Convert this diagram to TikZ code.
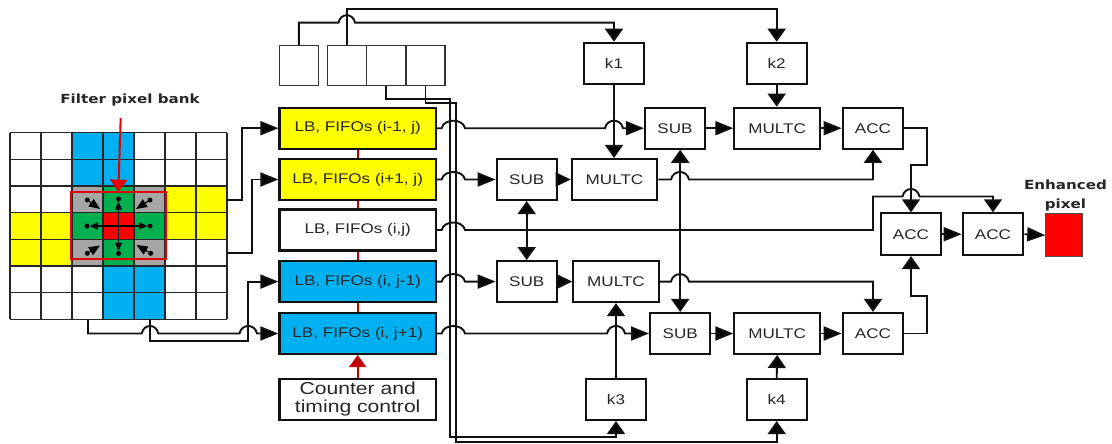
\documentclass[tikz,border=0pt]{standalone}
\usepackage{fontspec}
\setmainfont{Liberation Sans}
\newfontfamily\widefont[FakeStretch=1.22]{Liberation Sans}
\newfontfamily\labfont[FakeStretch=1.2]{DejaVu Sans}
\usetikzlibrary{arrows.meta,calc}
\definecolor{cyanb}{HTML}{00B0F0}
\definecolor{yel}{HTML}{FFFF00}
\definecolor{grn}{HTML}{00B050}
\definecolor{gry}{HTML}{A6A6A6}
\definecolor{dred}{HTML}{C00000}
\definecolor{lin}{HTML}{111111}
\tikzset{
  box/.style={draw=lin,line width=2.1pt,fill=white,inner sep=0pt,align=center,font=\widefont\fontsize{14}{16}\selectfont,text=black!85},
  topbox/.style={draw=black!80,line width=1.2pt,fill=white,inner sep=0pt,minimum width=39pt,minimum height=40pt},
  lbbox/.style={box,minimum width=156.5pt,minimum height=41pt},
  conn/.style={draw=lin,line width=1.9pt},
  ah/.style={conn,-{Triangle[length=18pt,width=14pt,fill=black]}},
  ahs/.style={conn,-{Triangle[length=15pt,width=14pt,fill=black]}},
  av/.style={conn,-{Triangle[length=13pt,width=18pt,fill=black]}},
  avb/.style={conn,{Triangle[length=13pt,width=18pt,fill=black]}-{Triangle[length=13pt,width=18pt,fill=black]}},
  hop/.style={to path={.. controls +(2,-10) and +(-2,-10) .. (\tikztotarget)}},
  dotn/.style={circle,fill=black,inner sep=0pt,minimum size=5pt},
  ia/.style={draw=black,line width=1.2pt,-{Triangle[length=8pt,width=7pt,fill=black]}},
  ic/.style={draw=black,line width=1.2pt,-{Triangle[length=11pt,width=9pt,fill=black]}},
  tinyd/.style={circle,fill=black,inner sep=0pt,minimum size=1pt},
  redl/.style={draw=dred,line width=1.8pt},
  lab/.style={font=\labfont\bfseries\fontsize{12.6}{19.3}\selectfont,align=center,text=black!85}
}
\begin{document}
\begin{tikzpicture}[x=1pt,y=-1pt]
\useasboundingbox (0,0) rectangle (1112,444);
\fill[white] (0,0) rectangle (1112,444);
% grid fills
\fill[cyanb] (72,132.7) rectangle (134,186);
\fill[cyanb] (103,266) rectangle (165,319.3);
\fill[yel] (10,212.7) rectangle (72,266);
\fill[yel] (165,186) rectangle (227,239.3);
\fill[gry] (72,186) rectangle (103,212.7);
\fill[gry] (134,186) rectangle (165,212.7);
\fill[gry] (72,239.3) rectangle (103,266);
\fill[gry] (134,239.3) rectangle (165,266);
\fill[grn] (103,186) rectangle (134,212.7);
\fill[grn] (72,212.7) rectangle (103,239.3);
\fill[grn] (134,212.7) rectangle (165,239.3);
\fill[grn] (103,239.3) rectangle (134,266);
\fill[red] (103,212.7) rectangle (134,239.3);
% grid lines
\foreach \gx in {10,41,72,103,134,165,196,227}
  \draw[black!85,line width=1.3pt] (\gx,132.7) -- (\gx,319.3);
\foreach \gy in {132.7,159.3,186,212.7,239.3,266,292.7,319.3}
  \draw[black!85,line width=1.3pt] (10,\gy) -- (227,\gy);
\draw[red!90!black,line width=2pt] (70.7,192.3) rectangle (166,259.3);
% inner arrows
\coordinate (cc) at (118.5,226);
\node[dotn] (dT) at (118.5,199) {};
\node[dotn] (dB) at (118.5,253.5) {};
\node[dotn] (dL) at (87,226) {};
\node[dotn] (dR) at (150,226) {};
\node[dotn] (dTL) at (87.3,200) {};
\node[dotn] (dTR) at (150,200) {};
\node[dotn] (dBL) at (87.3,253.3) {};
\node[dotn] (dBR) at (150.7,253.3) {};
\coordinate (tTL) at (100,209);
\coordinate (tTR) at (136,209);
\coordinate (tBL) at (100,245.5);
\coordinate (tBR) at (136.5,245);
\draw[ia] (cc) -- (dT);
\draw[ia] (cc) -- (dB);
\draw[ia] (cc) -- (dL);
\draw[ia] (cc) -- (dR);
\draw[ic] (dTL) -- (tTL);
\draw[ic] (dTR) -- (tTR);
\draw[ic] (dBL) -- (tBL);
\draw[ic] (dBR) -- (tBR);
\foreach \tx/\ty in {108/218,113/221,124/218,129/221,108/235,113/232,124/232,129/235}
  \node[tinyd] at (\tx,\ty) {};
% filter label and red arrow
\node[lab] (fpb) at (130,100) {Filter pixel bank};
\coordinate (ra) at (120.7,118);
\coordinate (rb) at (118.3,191.7);
\draw[draw=red!90!black,line width=2pt,-{Triangle[length=12pt,width=17pt,fill=red!90!black]}] (ra) -- (rb);
% top boxes
\node[topbox] (t1) at (298.8,65.7) {};
\node[topbox] (t2) at (346.8,65.7) {};
\node[topbox] (t3) at (386.2,65.7) {};
\node[topbox] (t4) at (425.5,65.7) {};
% LB
\node[lbbox,fill=yel] (lb1) at (357.7,128.2) {LB, FIFOs (i-1, j)};
\node[lbbox,fill=yel] (lb2) at (357.7,179.5) {LB, FIFOs (i+1, j)};
\node[lbbox] (lb3) at (357.7,230) {LB, FIFOs (i,j)};
\node[lbbox,fill=cyanb] (lb4) at (357.7,281.6) {LB, FIFOs (i, j-1)};
\node[lbbox,fill=cyanb] (lb5) at (357.7,333.5) {LB, FIFOs (i, j+1)};
\node[lbbox,font=\widefont\fontsize{17.3}{18}\selectfont] (cnt) at (357.7,399.5) {Counter and\\timing control};
\draw[redl] (lb1) -- (lb2);
\draw[redl] (lb2) -- (lb3);
\draw[redl] (lb3) -- (lb4);
\draw[redl] (lb4) -- (lb5);
\draw[redl,-{Triangle[length=12pt,width=17pt,fill=dred]}] (cnt) -- (lb5);
% blocks
\node[box,minimum width=60pt,minimum height=41pt] (k1) at (614,63.3) {k1};
\node[box,minimum width=60pt,minimum height=41pt] (k2) at (776.7,63.3) {k2};
\node[box,minimum width=60pt,minimum height=41pt] (k3) at (616,399.5) {k3};
\node[box,minimum width=60pt,minimum height=41pt] (k4) at (776.7,399.5) {k4};
\node[box,minimum width=60pt,minimum height=41pt] (s1) at (675,128.2) {SUB};
\node[box,minimum width=85.7pt,minimum height=41pt] (m1) at (777.2,128.2) {MULTC};
\node[box,minimum width=60.6pt,minimum height=41pt] (a1) at (873,128.2) {ACC};
\node[box,minimum width=60pt,minimum height=41pt] (s2) at (526.7,179.5) {SUB};
\node[box,minimum width=85.5pt,minimum height=41pt] (m2) at (614.5,179.5) {MULTC};
\node[box,minimum width=60pt,minimum height=41pt] (s3) at (526.7,281.6) {SUB};
\node[box,minimum width=85.5pt,minimum height=41pt] (m3) at (616,281.6) {MULTC};
\node[box,minimum width=60.3pt,minimum height=41pt] (s4) at (680.2,333.5) {SUB};
\node[box,minimum width=85.7pt,minimum height=41pt] (m4) at (777.2,333.5) {MULTC};
\node[box,minimum width=60.6pt,minimum height=41pt] (a2) at (873,333.5) {ACC};
\node[box,minimum width=60pt,minimum height=41.7pt] (a3) at (911,234.2) {ACC};
\node[box,minimum width=60.6pt,minimum height=41.7pt] (a4) at (993,234.2) {ACC};
\node[draw=black!70,line width=1pt,fill=red,inner sep=0pt,minimum width=37pt,minimum height=43pt] (out) at (1064.2,235.2) {};
\node[lab] (enh) at (1065.5,195.3) {Enhanced\\pixel};
% grid to LB
\coordinate (g1) at (227,200);
\coordinate (g2) at (227,252.7);
\coordinate (g3) at (88,319.3);
\coordinate (g4) at (150,319.3);
\draw[ah] (g1) -- (242.3,200) |- (lb1.west);
\draw[ah] (g2) -- (251.7,252.7) |- (lb2.west);
\draw[ah] (g4) |- (248.3,341) |- (lb4.west);
\draw[ah] (g3) |- (141.7,333.5) to[hop] (158.3,333.5) -- (239.5,333.5) to[hop] (257,333.5) -- (lb5.west);
% top connectors
\draw[av] (t2.north) |- (776.7,9.3) -- (k2.north);
\draw[av] (t1.north) |- (338.5,22.7) to[hop] (355,22.7) -| (k1.north);
\draw[av] (t3.south) |- (450.3,99) -- (450.3,437.3) -| (k3.south);
\draw[av] (t4.south) |- (455.7,103.3) -- (455.7,441.7) -| (k4.south);
% k lines
\draw[av] (k1.south) -- (m2.north -| k1.south);
\draw[av] (k2.south) -- (m1.north -| k2.south);
\draw[av] (k3.north) -- (m3.south -| k3.north);
\draw[av] (k4.north) -- (m4.south);
% vertical doubles
\draw[avb] (s2.south) -- (s3.north);
\draw[avb] (s1.south -| s4.north) -- (s4.north);
% row 1
\draw[ah] (lb1.east) -- (441.7,128.2) to[hop] (465,128.2) -- (605,128.2) to[hop] (623,128.2) -- (s1.west);
\draw[ah] (s1.east) -- (m1.west);
\draw[ah] (m1.east) -- (a1.west);
% row 2
\draw[ah] (lb2.east) -- (441.7,179.5) to[hop] (465,179.5) -- (s2.west);
\draw[ahs] (s2.east) -- (m2.west);
\draw[av] (m2.east) -- (671,179.5) to[hop] (689,179.5) -| (a1.south);
% row 3
\draw[av] (lb3.east) -- (441.7,230) to[hop] (465,230) -| (873,196.5) -- (902.5,196.5) to[hop] (919.5,196.5) -| (a4.north);
% row 4
\draw[ah] (lb4.east) -- (441.7,281.6) to[hop] (465,281.6) -- (s3.west);
\draw[ahs] (s3.east) -- (m3.west);
\draw[av] (m3.east) -- (671,281.6) to[hop] (689,281.6) -| (a2.north);
% row 5
\draw[ah] (lb5.east) -- (441.7,333.5) to[hop] (465,333.5) -- (607,333.5) to[hop] (625,333.5) -- (s4.west);
\draw[ah] (s4.east) -- (m4.west);
\draw[ah] (m4.east) -- (a2.west);
% to ACC
\draw[av] (a1.east) -| (926.7,165) -| (a3.north);
\draw[av] (a2.east) -| (926.7,296) -| (a3.south);
\draw[ah] (a3.east) -- (a4.west);
\draw[ah] (a4.east) -- (out.west);
\end{tikzpicture}
\end{document}
